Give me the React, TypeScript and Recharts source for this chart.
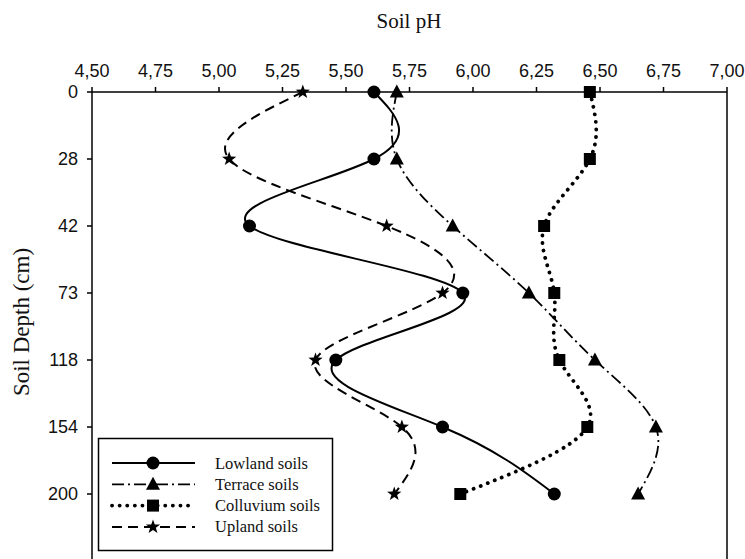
import React from 'react'
import { LineChart, Line, XAxis, YAxis, ReferenceLine } from 'recharts'

// depth classes (cm) shown on the vertical axis, top to bottom
const depthLabels = ['0', '28', '42', '73', '118', '154', '200']
const phTicks = [4.5, 4.75, 5.0, 5.25, 5.5, 5.75, 6.0, 6.25, 6.5, 6.75, 7.0]

// soil pH per depth
const lowland = [5.61, 5.61, 5.12, 5.96, 5.46, 5.88, 6.32]
const terrace = [5.70, 5.70, 5.92, 6.22, 6.48, 6.72, 6.65]
const colluvium = [6.46, 6.46, 6.28, 6.32, 6.34, 6.45, 5.95]
const upland = [5.33, 5.04, 5.66, 5.88, 5.38, 5.72, 5.69]

const data = depthLabels.map((depth, i) => ({
  idx: i,
  depth,
  lowland: lowland[i],
  terrace: terrace[i],
  colluvium: colluvium[i],
  upland: upland[i],
}))

type Shape = 'circle' | 'triangle' | 'square' | 'star'

const Marker = ({ cx, cy, shape }: { cx: number; cy: number; shape: Shape }) => {
  if (shape === 'circle') return <circle cx={cx} cy={cy} r={6.5} fill='#000' />
  if (shape === 'square') return <rect x={cx - 6} y={cy - 6} width={12} height={12} fill='#000' />
  if (shape === 'triangle') {
    return <polygon points={`${cx},${cy - 7.5} ${cx - 7},${cy + 5.5} ${cx + 7},${cy + 5.5}`} fill='#000' />
  }
  const pts: string[] = []
  for (let k = 0; k < 10; k++) {
    const r = k % 2 === 0 ? 7.5 : 3
    const a = -Math.PI / 2 + (k * Math.PI) / 5
    pts.push(`${cx + r * Math.cos(a)},${cy + r * Math.sin(a)}`)
  }
  return <polygon points={pts.join(' ')} fill='#000' />
}

const series = [
  { key: 'lowland', name: 'Lowland soils', shape: 'circle' as Shape, dash: undefined, width: 2, cap: 'butt' },
  { key: 'terrace', name: 'Terrace soils', shape: 'triangle' as Shape, dash: '12 4 2 4', width: 1.8, cap: 'butt' },
  { key: 'colluvium', name: 'Colluvium soils', shape: 'square' as Shape, dash: '0.1 7.5', width: 3.8, cap: 'round' },
  { key: 'upland', name: 'Upland soils', shape: 'star' as Shape, dash: '10 6', width: 2, cap: 'butt' },
]

const tickStyle = { fontFamily: '"Liberation Sans", Arial, sans-serif', fontSize: 18, fill: '#111' }
const serif = '"Liberation Serif", "Times New Roman", serif'

const fmt = (v: number) => v.toFixed(2).replace('.', ',')

export default function App() {
  return (
    <div style={{ position: 'fixed', left: 0, top: 0, width: 745, height: 559, overflow: 'hidden', background: '#fff' }}>
      <LineChart width={745} height={600} data={data} layout='vertical' margin={{ top: 0, right: 18, bottom: 39, left: 0 }}>
        <XAxis
          type='number'
          orientation='top'
          height={92}
          domain={[4.5, 7]}
          ticks={phTicks}
          tickFormatter={fmt}
          tick={tickStyle}
          tickSize={5}
          tickMargin={10}
          interval={0}
          stroke='#000'
          strokeWidth={1.5}
        />
        <YAxis
          type='number'
          dataKey='idx'
          width={92}
          domain={[0, 7]}
          ticks={[0, 1, 2, 3, 4, 5, 6]}
          tickFormatter={(i: number) => depthLabels[i]}
          tick={tickStyle}
          tickSize={5}
          tickMargin={9}
          interval={0}
          stroke='#000'
          strokeWidth={1.5}
        />
        <ReferenceLine x={7} stroke='#000' strokeWidth={1.5} />
        {series.map((s) => (
          <Line
            key={s.key}
            dataKey={s.key}
            name={s.name}
            type='natural'
            stroke='#000'
            strokeWidth={s.width}
            strokeDasharray={s.dash}
            strokeLinecap={s.cap as any}
            dot={(p: any) => <Marker key={`${s.key}-${p.index}`} cx={p.cx} cy={p.cy} shape={s.shape} />}
            isAnimationActive={false}
          />
        ))}
      </LineChart>
      <svg width={745} height={559} style={{ position: 'absolute', left: 0, top: 0, pointerEvents: 'none' }}>
        <text x={409} y={28} textAnchor='middle' fontFamily={serif} fontSize={21} fill='#111'>Soil pH</text>
        <text transform='translate(29,322) rotate(-90)' textAnchor='middle' fontFamily={serif} fontSize={23} fill='#111'>
          Soil Depth (cm)
        </text>
        <rect x={98.5} y={438.5} width={234} height={112} fill='#fff' stroke='#000' strokeWidth={1.5} />
        {series.map((s, i) => {
          const y = 463 + i * 21.3
          return (
            <g key={s.key}>
              <line x1={112} x2={195} y1={y} y2={y} stroke='#000' strokeWidth={s.width} strokeDasharray={s.dash} strokeLinecap={s.cap as any} />
              <Marker cx={153} cy={y} shape={s.shape} />
              <text x={215} y={y + 5.5} fontFamily={serif} fontSize={16.5} fill='#111'>{s.name}</text>
            </g>
          )
        })}
      </svg>
    </div>
  )
}
